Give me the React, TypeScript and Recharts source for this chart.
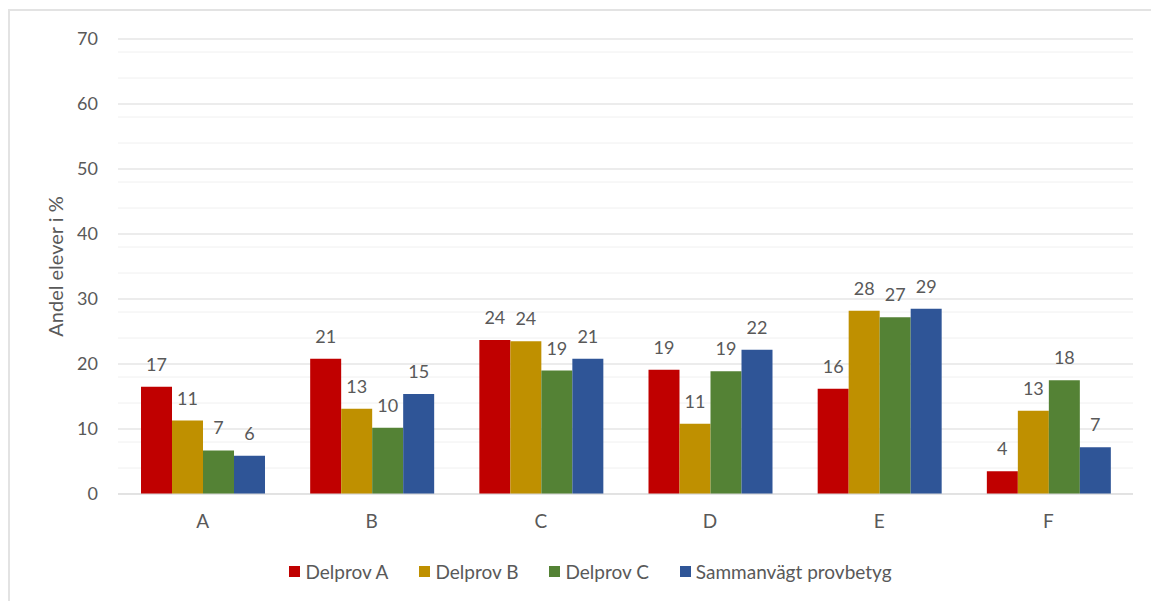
import { BarChart, Bar, CartesianGrid, XAxis, YAxis, Legend, LabelList } from 'recharts'

const categories = ['A', 'B', 'C', 'D', 'E', 'F']
const delprovA = [16.5, 20.8, 23.7, 19.1, 16.2, 3.5]
const delprovB = [11.3, 13.1, 23.5, 10.8, 28.2, 12.8]
const delprovC = [6.7, 10.2, 19.0, 18.9, 27.2, 17.5]
const sammanvagt = [5.9, 15.4, 20.8, 22.2, 28.5, 7.2]

const yTicks = [0, 10, 20, 30, 40, 50, 60, 70]
const minorLines = [2, 4, 6, 8, 12, 14, 16, 18, 22, 24, 26, 28, 32, 34, 36, 38, 42, 44, 46, 48, 52, 54, 56, 58, 62, 64, 66, 68]

const series = [
    { key: 'a', name: 'Delprov A', color: '#C00000', values: delprovA },
    { key: 'b', name: 'Delprov B', color: '#BF9000', values: delprovB },
    { key: 'c', name: 'Delprov C', color: '#548235', values: delprovC },
    { key: 's', name: 'Sammanvägt provbetyg', color: '#2F5597', values: sammanvagt },
]

const data = categories.map((cat, i) => {
    const row: Record<string, string | number> = { name: cat }
    series.forEach((s) => (row[s.key] = s.values[i]))
    return row
})

const FONT = 'Lato, "Open Sans", sans-serif'
const TEXT = '#595959'

function LegendContent() {
    return (
        <div style={{ display: 'flex', justifyContent: 'center', gap: 31, paddingLeft: 48,
            fontFamily: FONT, fontSize: 19, color: TEXT }}>
            {series.map((s) => (
                <div key={s.key} style={{ display: 'flex', alignItems: 'center' }}>
                    <span style={{ width: 11, height: 11, background: s.color, display: 'inline-block', marginRight: 5 }} />
                    <span>{s.name}</span>
                </div>
            ))}
        </div>
    )
}

function AxisTitle(props: any) {
    const { viewBox } = props
    const x = viewBox.x + 55
    const y = viewBox.y + viewBox.height / 2
    return (
        <text x={x} y={y} transform={`rotate(-90 ${x} ${y})`} textAnchor='middle' dominantBaseline='central'
            fill={TEXT} fontSize={20} fontFamily={FONT}>
            Andel elever i %
        </text>
    )
}

export default function App() {
    return (
        <div style={{ position: 'absolute', left: 0, top: 0, width: 1151, height: 601, background: '#fff' }}>
            <div style={{ position: 'absolute', left: 8, top: 9, width: 1150, height: 600, border: '2px solid #e3e3e3', boxSizing: 'border-box' }} />
            <BarChart width={1151} height={601} data={data} barGap={0} barCategoryGap='13.6%'
                margin={{ top: 39, right: 18, left: 0, bottom: 17 }}>
                <CartesianGrid vertical={false} stroke='#f0f0f0' horizontalValues={minorLines} />
                <CartesianGrid vertical={false} stroke='#d9d9d9' horizontalValues={yTicks} />
                <XAxis dataKey='name' height={66} tickLine={false} axisLine={{ stroke: '#d9d9d9' }}
                    tick={{ fill: TEXT, fontSize: 19, fontFamily: FONT }} tickMargin={15} />
                <YAxis width={118} domain={[0, 70]} ticks={yTicks} tickLine={false} axisLine={false}
                    tickSize={0} tickMargin={20} tick={{ fill: TEXT, fontSize: 18, fontFamily: FONT }}
                    label={<AxisTitle />} />
                <Legend verticalAlign='bottom' height={24} content={<LegendContent />} />
                {series.map((s) => (
                    <Bar key={s.key} dataKey={s.key} name={s.name} fill={s.color} isAnimationActive={false}>
                        <LabelList dataKey={s.key} position='top' offset={16} fill={TEXT} fontSize={18}
                            fontFamily={FONT} formatter={(v: any) => Math.round(Number(v))} />
                    </Bar>
                ))}
            </BarChart>
        </div>
    )
}
